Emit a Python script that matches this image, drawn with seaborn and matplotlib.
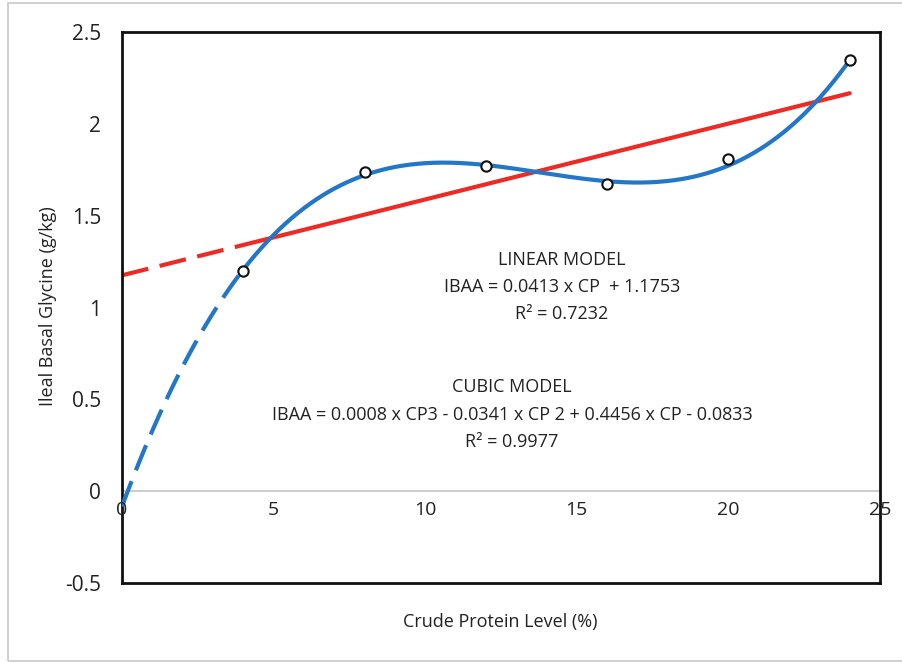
import numpy as np
import pandas as pd
import matplotlib
matplotlib.use("Agg")
import matplotlib.pyplot as plt
from matplotlib.patches import Rectangle
import seaborn as sns

# Observed ileal basal glycine at each crude protein level
cp_level = [4, 8, 12, 16, 20, 24]
glycine = [1.20, 1.74, 1.77, 1.67, 1.81, 2.35]

# Trendline coefficients (highest power first)
linear_coef = [0.0413, 1.1753]
cubic_coef = [0.000823, -0.0341, 0.4456, -0.0833]

x_ticks = [0, 5, 10, 15, 20, 25]
y_ticks = [-0.5, 0, 0.5, 1, 1.5, 2, 2.5]

sns.set_style("white")
plt.rcParams["font.family"] = ["Open Sans", "DejaVu Sans"]

fig = plt.figure(figsize=(9.02, 6.63), dpi=100)
W, H = 902, 663
ax = fig.add_axes([122 / W, 1 - 583 / H, (880 - 122) / W, (583 - 32) / H])

# outer frame
fig.patches.append(Rectangle((8 / W, 2 / H), 1.0, (659 - 2) / H + 0.002,
                             transform=fig.transFigure, fill=False,
                             edgecolor="#c8c8c8", linewidth=1.2))

points = pd.DataFrame({"cp": cp_level, "gly": glycine})

x_obs = np.linspace(min(cp_level), max(cp_level), 300)
x_ext = np.linspace(0, min(cp_level), 60)

lin_obs = pd.DataFrame({"cp": x_obs, "gly": np.polyval(linear_coef, x_obs)})
lin_ext = pd.DataFrame({"cp": x_ext, "gly": np.polyval(linear_coef, x_ext)})
cub_obs = pd.DataFrame({"cp": x_obs, "gly": np.polyval(cubic_coef, x_obs)})
cub_ext = pd.DataFrame({"cp": x_ext, "gly": np.polyval(cubic_coef, x_ext)})

ax.axhline(0, color="#c8c8c8", linewidth=1.3, zorder=1)

red = "#ee2a24"
blue = "#2377c8"
dash = (0, (6.5, 2.8))
sns.lineplot(data=lin_ext, x="cp", y="gly", ax=ax, color=red, linewidth=3,
             linestyle=dash, zorder=2)
sns.lineplot(data=lin_obs, x="cp", y="gly", ax=ax, color=red, linewidth=3, zorder=2)
sns.lineplot(data=cub_ext, x="cp", y="gly", ax=ax, color=blue, linewidth=3,
             linestyle=dash, zorder=3)
sns.lineplot(data=cub_obs, x="cp", y="gly", ax=ax, color=blue, linewidth=3, zorder=3)
sns.scatterplot(data=points, x="cp", y="gly", ax=ax, s=55, marker="o",
                facecolor="white", edgecolor="#111111", linewidth=1.5, zorder=4)

ax.set_xlim(0, 25)
ax.set_ylim(-0.5, 2.5)
ax.set_yticks(y_ticks)
ax.set_yticklabels(["-0.5", "0", "0.5", "1", "1.5", "2", "2.5"], fontsize=15,
                   color="#222222")
ax.set_xticks([])
for spine in ax.spines.values():
    spine.set_color("#111111")
    spine.set_linewidth(2)
ax.tick_params(axis="y", length=0, pad=15)

# x tick labels sit just under the zero line
for xv in x_ticks:
    ax.text(xv, -0.1, str(xv), ha="center", va="center", fontsize=14,
            color="#222222")

ax.set_xlabel("")
ax.set_ylabel("")
fig.text(500 / W, 1 - 622 / H, "Crude Protein Level (%)", ha="center",
         va="center", fontsize=13, color="#222222")
fig.text(48 / W, 1 - 306 / H, "Ileal Basal Glycine (g/kg)", ha="center",
         va="center", rotation=90, fontsize=13, color="#222222")

txt_kw = dict(ha="center", va="center", fontsize=13, color="#222222")
fig.text(562 / W, 1 - 260 / H, "LINEAR MODEL", **txt_kw)
fig.text(562 / W, 1 - 287 / H, "IBAA = 0.0413 x CP  + 1.1753", **txt_kw)
fig.text(562 / W, 1 - 314 / H, "R² = 0.7232", **txt_kw)
fig.text(512 / W, 1 - 387 / H, "CUBIC MODEL", **txt_kw)
fig.text(512 / W, 1 - 415 / H,
         "IBAA = 0.0008 x CP3 - 0.0341 x CP 2 + 0.4456 x CP - 0.0833", **txt_kw)
fig.text(512 / W, 1 - 442 / H, "R² = 0.9977", **txt_kw)

fig.savefig("out.png", dpi=100)
